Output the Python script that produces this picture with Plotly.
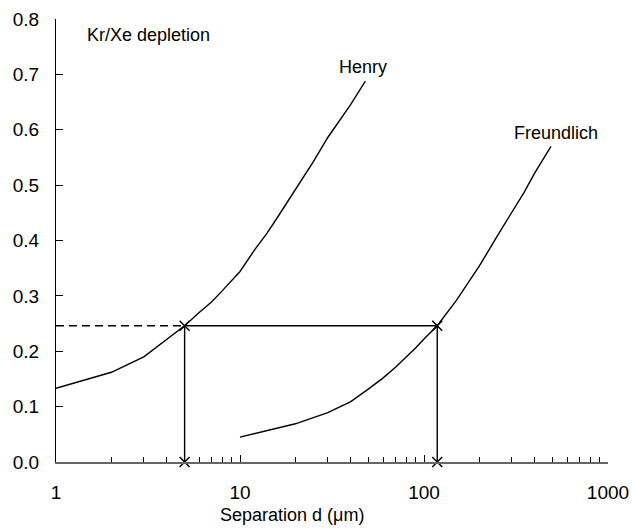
import numpy as np
import plotly.graph_objects as go

henry_x = [1, 2, 3, 4, 5, 6, 7, 8, 9, 10, 12, 14, 16, 18, 20, 25, 30, 35, 40, 48]
henry_y = [0.133, 0.162, 0.190, 0.221, 0.246, 0.270, 0.289, 0.309, 0.328, 0.344,
           0.383, 0.413, 0.442, 0.468, 0.492, 0.542, 0.586, 0.618, 0.646, 0.688]

freund_x = [10, 20, 30, 40, 50, 60, 70, 80, 90, 100, 118, 150, 200, 250, 300, 350, 400, 490]
freund_y = [0.045, 0.069, 0.089, 0.109, 0.132, 0.152, 0.171, 0.189, 0.206, 0.222,
            0.246, 0.292, 0.354, 0.408, 0.452, 0.487, 0.522, 0.570]

depletion = 0.246
d_henry = 5
d_freund = 118

x_major = [1, 10, 100, 1000]
x_minor = [m * d for d in (1, 10, 100) for m in range(2, 10)]

font = "Arial, Liberation Sans, sans-serif"
fig = go.Figure()

line = dict(color="black", width=1.4)
fig.add_trace(go.Scatter(x=henry_x, y=henry_y, mode="lines", line=line))
fig.add_trace(go.Scatter(x=freund_x, y=freund_y, mode="lines", line=line))
# dashed guide
fig.add_trace(go.Scatter(x=[1, d_henry], y=[depletion, depletion], mode="lines",
                         line=dict(color="black", width=1.5, dash="8px,5px")))
# solid guides
fig.add_trace(go.Scatter(x=[d_henry, d_freund], y=[depletion, depletion], mode="lines", line=line))
fig.add_trace(go.Scatter(x=[d_henry, d_henry], y=[0, depletion], mode="lines", line=line))
fig.add_trace(go.Scatter(x=[d_freund, d_freund], y=[0, depletion], mode="lines", line=line))
fig.add_trace(go.Scatter(x=[d_henry, d_henry, d_freund, d_freund], y=[0, depletion, 0, depletion],
                         mode="markers", cliponaxis=False,
                         marker=dict(symbol="x-thin", size=10, line=dict(color="black", width=1.5))))

fig.update_layout(
    width=633, height=529,
    margin=dict(l=56, r=25, t=19, b=67),
    plot_bgcolor="white", paper_bgcolor="white",
    showlegend=False,
    font=dict(family=font, size=19, color="black"),
    xaxis=dict(type="log", range=[0, 3], showgrid=False, zeroline=False, automargin=False,
               showline=True, linecolor="#666", linewidth=1.5,
               ticks="inside", ticklen=7, tickcolor="black", tickwidth=1,
               tickvals=x_major, ticktext=[str(v) for v in x_major],
               ticklabelstandoff=12,
               minor=dict(ticks="inside", ticklen=5, tickcolor="black", tickwidth=1,
                          tickvals=x_minor, showgrid=False)),
    yaxis=dict(range=[0, 0.8], showgrid=False, zeroline=False, automargin=False,
               showline=True, linecolor="black", linewidth=1,
               ticks="inside", ticklen=7, tickcolor="black", tickwidth=1,
               dtick=0.1, tickformat=".1f", ticklabelstandoff=12),
    annotations=[
        dict(x=np.log10(1.44), y=0.771, xref="x", yref="y", text="Kr/Xe depletion",
             showarrow=False, xanchor="left", yanchor="middle", font=dict(size=18)),
        dict(x=np.log10(46.6), y=0.713, xref="x", yref="y", text="Henry",
             showarrow=False, xanchor="center", yanchor="middle", font=dict(size=18)),
        dict(x=np.log10(521), y=0.594, xref="x", yref="y", text="Freundlich",
             showarrow=False, xanchor="center", yanchor="middle", font=dict(size=18)),
        dict(x=0.428, y=-0.12, xref="paper", yref="paper", text="Separation d (μm)",
             showarrow=False, xanchor="center", yanchor="middle", font=dict(size=18)),
    ],
)

fig.write_html("out.html")
